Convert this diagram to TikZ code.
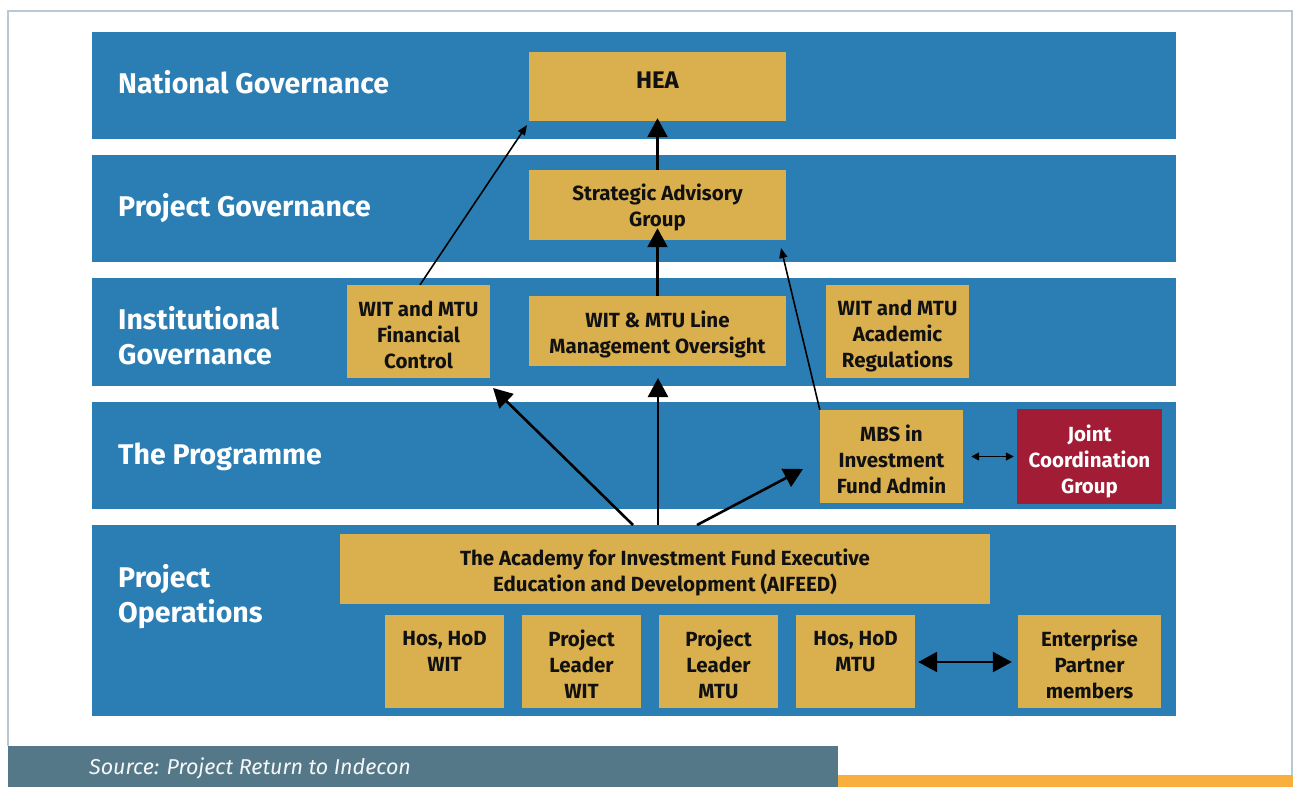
\documentclass[tikz,border=0pt]{standalone}
\usepackage{fontspec}
\setmainfont{Fira Sans}
\usetikzlibrary{arrows.meta}
\definecolor{bandc}{HTML}{2B7EB4}
\definecolor{goldc}{HTML}{DAB04F}
\definecolor{redc}{HTML}{A31C35}
\definecolor{inkc}{HTML}{111111}
\definecolor{framec}{HTML}{B9C8D3}
\definecolor{stripc}{HTML}{557889}
\definecolor{orangec}{HTML}{F9AF3D}
\tikzset{
  band/.style={fill=bandc},
  lbl/.style={anchor=west, text=white, font=\bfseries\fontsize{28.5}{35}\selectfont, align=left, inner sep=0},
  gbox/.style={fill=goldc, inner sep=0},
  rbox/.style={fill=redc, inner sep=0},
  btxt/.style={text=inkc, font=\bfseries\fontsize{20.5}{26}\selectfont, align=center, inner sep=0},
  wtxt/.style={btxt, text=white},
  bigarr/.style={line width=2.6pt, -{Triangle[width=20pt,length=19pt]}},
  bigdbl/.style={line width=2.6pt, {Triangle[width=20pt,length=19pt]}-{Triangle[width=20pt,length=19pt]}},
  thinarr/.style={line width=1.6pt, -{Triangle[width=8pt,length=10pt]}},
  thindbl/.style={line width=1.6pt, {Triangle[width=8pt,length=8pt]}-{Triangle[width=8pt,length=8pt]}},
}
\begin{document}
\begin{tikzpicture}[x=1pt,y=-1pt]
\useasboundingbox (0,0) rectangle (1293,787);
\fill[white] (0,0) rectangle (1293,787);
% frame
\draw[framec, line width=2pt] (8,746) -- (8,11) -- (1292,11) -- (1292,775);
% bottom strips
\fill[stripc] (8,746) rectangle (838,787);
\fill[orangec] (838,775) rectangle (1293,787);
\node[anchor=west, text=white!94!stripc, font=\itshape\fontsize{21.5}{24}\selectfont, inner sep=0] (src) at (89,768) {Source: Project Return to Indecon};
% bands
\fill[band] (92,32) rectangle (1176,139);
\fill[band] (92,155) rectangle (1176,262);
\fill[band] (92,278) rectangle (1176,386);
\fill[band] (92,402) rectangle (1176,509);
\fill[band] (92,525) rectangle (1176,716);
% band labels
\node[lbl] (l1) at (118,82) {National Governance};
\node[lbl] (l2) at (118,208) {Project Governance};
\node[lbl] (l3) at (118,336) {Institutional\\Governance};
\node[lbl] (l4) at (118,456.5) {The Programme};
\node[lbl] (l5) at (118,596.5) {Project\\Operations};
% boxes
\node[gbox, minimum width=257pt, minimum height=69pt] (hea) at (657.5,86.5) {};
\node[gbox, minimum width=257pt, minimum height=70pt] (sag) at (657.5,205) {};
\node[gbox, minimum width=257pt, minimum height=70pt] (lmo) at (657.5,331) {};
\node[gbox, minimum width=143pt, minimum height=93pt] (fc) at (418.5,331.5) {};
\node[gbox, minimum width=143pt, minimum height=93pt] (ar) at (897.5,331.5) {};
\node[gbox, minimum width=143pt, minimum height=93pt] (mbs) at (891.5,456.5) {};
\node[rbox, minimum width=145pt, minimum height=95pt] (jcg) at (1089.5,456.5) {};
\node[gbox, minimum width=650pt, minimum height=70pt] (aif) at (665,569) {};
\node[gbox, minimum width=119pt, minimum height=93pt] (b1) at (444.5,661.5) {};
\node[gbox, minimum width=119pt, minimum height=93pt] (b2) at (581.5,661.5) {};
\node[gbox, minimum width=119pt, minimum height=93pt] (b3) at (718.5,661.5) {};
\node[gbox, minimum width=119pt, minimum height=93pt] (b4) at (855.5,661.5) {};
\node[gbox, minimum width=143pt, minimum height=93pt] (b5) at (1089.5,661.5) {};
% box texts
\node[btxt, font=\bfseries\fontsize{24}{26}\selectfont] (heat) at ([yshift=6pt]hea.center) {HEA};
\node[btxt] (sagt) at ([yshift=-2pt]sag.center) {Strategic Advisory\\Group};
\node[btxt] (lmot) at ([yshift=-3pt]lmo.center) {WIT \& MTU Line\\Management Oversight};
\node[btxt] (fct) at ([yshift=-3pt]fc.center) {WIT and MTU\\Financial\\Control};
\node[btxt] (art) at ([yshift=-4.5pt]ar.center) {WIT and MTU\\Academic\\Regulations};
\node[btxt] (mbst) at ([yshift=-3pt]mbs.center) {MBS in\\Investment\\Fund Admin};
\node[wtxt] (jcgt) at ([yshift=-5pt]jcg.center) {Joint\\Coordination\\Group};
\node[btxt] (aift) at ([yshift=-3pt]aif.center) {The Academy for Investment Fund Executive\\Education and Development (AIFEED)};
\node[btxt] (b1t) at ([yshift=-2.5pt]b1.center) {Hos, HoD\\WIT\\\phantom{X}};
\node[btxt] (b2t) at ([yshift=-2.5pt]b2.center) {Project\\Leader\\WIT};
\node[btxt] (b3t) at ([yshift=-2.5pt]b3.center) {Project\\Leader\\MTU};
\node[btxt] (b4t) at ([yshift=-2.5pt]b4.center) {Hos, HoD\\MTU\\\phantom{X}};
\node[btxt] (b5t) at ([yshift=-2.5pt]b5.center) {Enterprise\\Partner\\members};
% connector coordinates
\coordinate (a1) at (633,525);
\coordinate (a2) at (658,525);
\coordinate (a3) at (697,525);
\coordinate (t1) at (493,388);
\coordinate (t2) at (658,378);
\coordinate (t3) at (803,469);
\coordinate (t4) at (527,125);
\coordinate (t5) at (781,248);
% arrows
\draw[bigarr] (sag.north) -- ([yshift=3pt]hea.south);
\draw[bigarr] (lmo.north) -- ([yshift=12pt]sag.south);
\draw[bigarr] (a1) -- (t1);
\draw[bigarr] (a2) -- (t2);
\draw[bigarr] (a3) -- (t3);
\draw[thinarr] ([xshift=1.5pt]fc.north) -- (t4);
\draw[thinarr] (mbs.north west) -- (t5);
\draw[thindbl] ([xshift=8pt]mbs.east) -- ([xshift=-3pt]jcg.west);
\draw[bigdbl] ([xshift=3pt]b4.east |- 0,662) -- ([xshift=-6pt]b5.west |- 0,662);
\end{tikzpicture}
\end{document}
